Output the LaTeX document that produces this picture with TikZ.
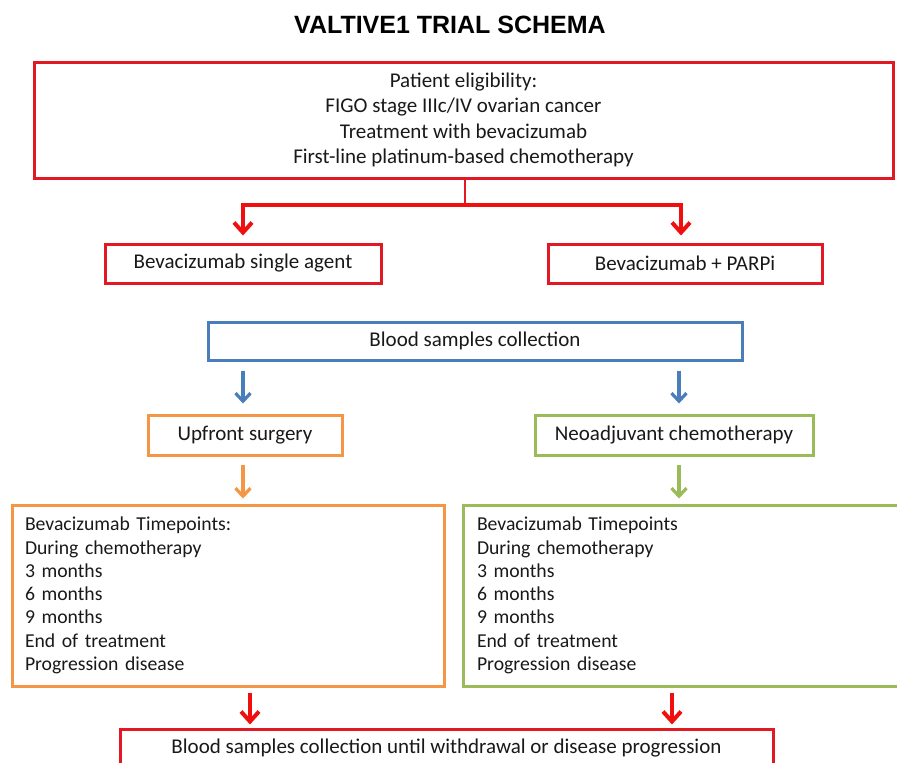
\documentclass[tikz,border=0pt]{standalone}
\usepackage{fontspec}
\setmainfont{Carlito}
\newfontfamily\titlefont{Liberation Sans}
\usetikzlibrary{arrows.meta,calc}
\definecolor{cred}{RGB}{225,25,35}
\definecolor{ared}{RGB}{240,15,15}
\definecolor{cblue}{RGB}{74,126,187}
\definecolor{corange}{RGB}{245,150,70}
\definecolor{cgreen}{RGB}{155,187,89}
\tikzset{
  box/.style={draw, line width=3pt, rectangle, inner sep=0pt, font=\fontsize{21}{25}\selectfont, text=black!90},
  listbox/.style={box, align=left, inner xsep=13pt, font=\fontsize{19.7}{23.3}\selectfont},
  redarr/.style={draw=ared, line width=4pt, -{Straight Barb[length=10pt,width=18pt]}},
  thinarr/.style={line width=3.2pt, -{Straight Barb[length=8pt,width=15pt]}},
}
\begin{document}
\begin{tikzpicture}[x=1pt,y=-1pt]
\useasboundingbox (0,0) rectangle (897,763);
\clip (0,0) rectangle (897,763);
\fill[white] (0,0) rectangle (897,763);
\node (title) at (450,25) {\titlefont\bfseries\fontsize{25}{28}\selectfont VALTIVE1 TRIAL SCHEMA};
\node[box, draw=cred, minimum width=859pt, minimum height=116pt, align=center,
      font=\fontsize{21}{25.5}\selectfont] (elig) at (463.5,120)
  {Patient eligibility:\\FIGO stage IIIc/IV ovarian cancer\\Treatment with bevacizumab\\First-line platinum-based chemotherapy};
\node[box, draw=cred, minimum width=276pt, minimum height=39pt] (single) at (243,263.5) {Bevacizumab single agent};
\node[box, draw=cred, minimum width=274pt, minimum height=39pt] (parp) at (685,263.5) {Bevacizumab + PARPi};
\node[box, draw=cblue, minimum width=534pt, minimum height=38pt] (blood) at (475,341) {Blood samples collection};
\node[box, draw=corange, minimum width=194pt, minimum height=40pt] (upfront) at (245,435) {Upfront surgery};
\node[box, draw=cgreen, minimum width=278pt, minimum height=40pt] (neo) at (674,435) {Neoadjuvant chemotherapy};
\node[listbox, draw=corange, text width=406pt, minimum height=181pt] (tl) at (228,595.5)
  {Bevacizumab Timepoints:\\During chemotherapy\\3 months\\6 months\\9 months\\End of treatment\\Progression disease};
\node[listbox, draw=cgreen, text width=416pt, inner xsep=14pt, minimum height=181pt] (tr) at (685,595.5)
  {Bevacizumab Timepoints\\During chemotherapy\\3 months\\6 months\\9 months\\End of treatment\\Progression disease};
\node[box, draw=cred, minimum width=653pt, minimum height=39pt] (final) at (446.5,748.5)
  {Blood samples collection until withdrawal or disease progression};
% red split
\coordinate (junc) at ($(elig.south)+(1.5,25)$);
\draw[cred, line width=1.6pt] ($(elig.south)+(1.5,0)$) -- (junc);
\draw[redarr] (junc) -| ($(single.north)+(0,-7)$);
\draw[redarr] (junc) -| ($(parp.north)+(-4,-7)$);
% blue / orange / green arrows
\coordinate (bl) at ($(blood.south -| upfront.north)+(-2,9)$);
\coordinate (br) at ($(blood.south -| neo.north)+(5,9)$);
\draw[thinarr, cblue] (bl) -- (bl |- {$(upfront.north)+(0,-10)$});
\draw[thinarr, cblue] (br) -- (br |- {$(neo.north)+(0,-10)$});
\coordinate (ol) at ($(upfront.south)+(-2,8)$);
\coordinate (gr) at ($(neo.south)+(5,8)$);
\draw[thinarr, corange] (ol) -- (ol |- {$(tl.north)+(0,-5)$});
\draw[thinarr, cgreen] (gr) -- (gr |- {$(tr.north)+(0,-5)$});
% bottom red
\coordinate (rl) at ($(tl.south)+(22,5)$);
\coordinate (rr) at ($(tr.south)+(-13,5)$);
\draw[redarr] (rl) -- (rl |- {$(final.north)+(0,-3)$});
\draw[redarr] (rr) -- (rr |- {$(final.north)+(0,-3)$});
\end{tikzpicture}
\end{document}
